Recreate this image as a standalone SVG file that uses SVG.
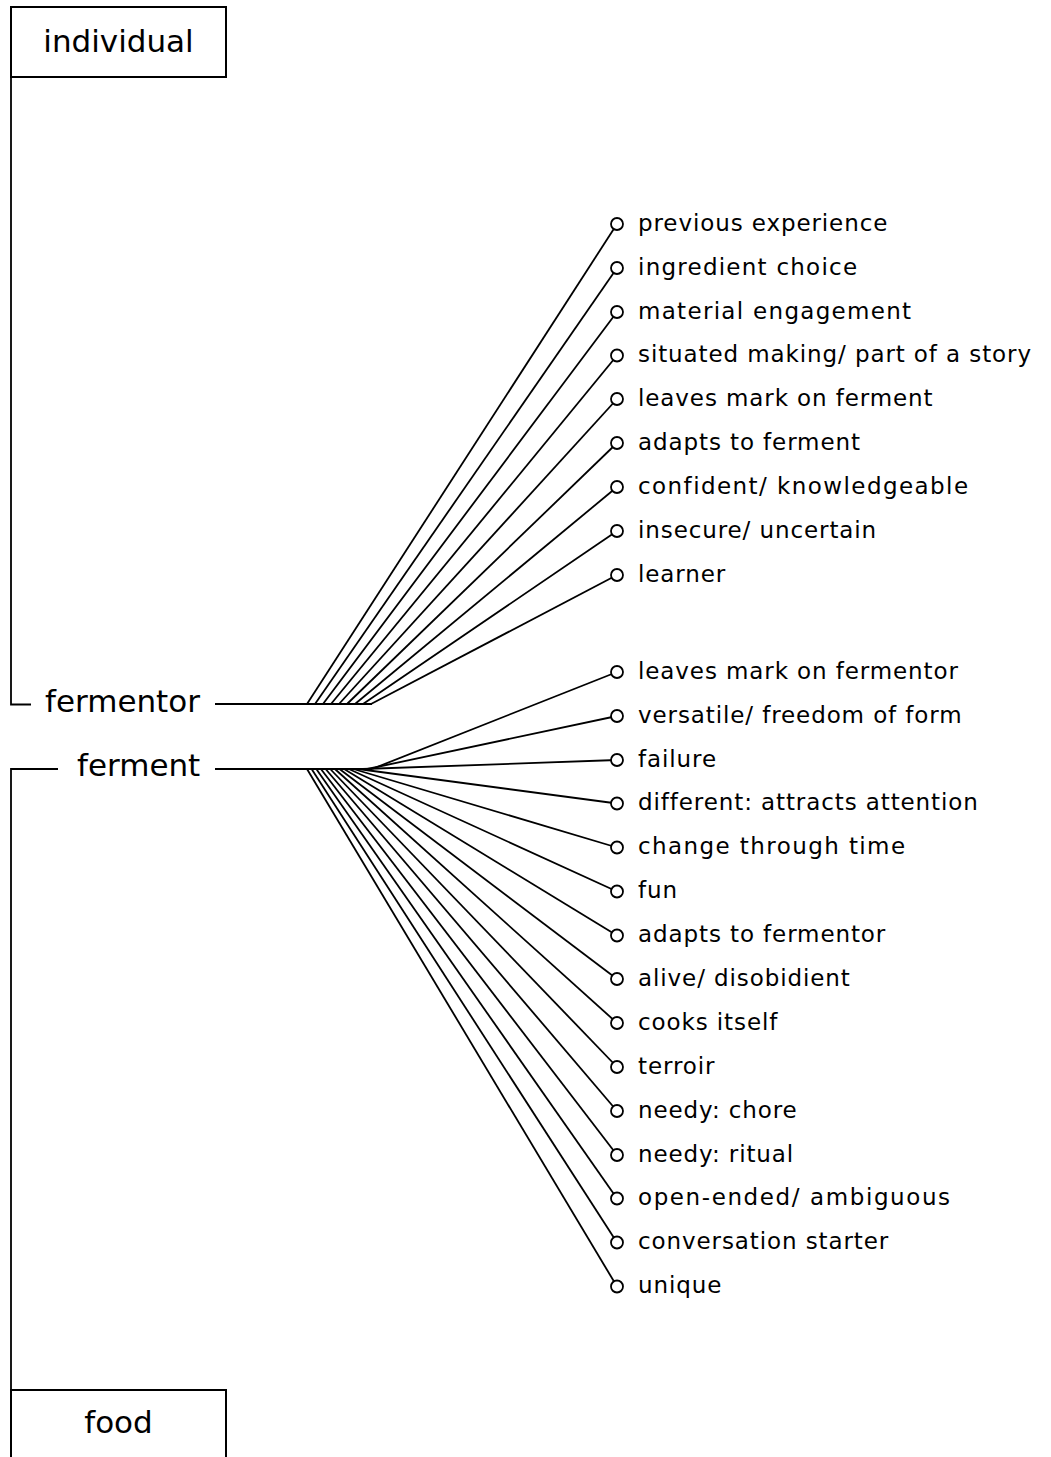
<svg xmlns="http://www.w3.org/2000/svg" width="1051" height="1457" viewBox="0 0 1051 1457">
<style>
.bg{fill:#fff}
.box{fill:#fff;stroke:#000;stroke-width:2}
.ln{fill:none;stroke:#000;stroke-width:1.8}
.dot{fill:#fff;stroke:#000;stroke-width:1.8}
.big{font-family:"DejaVu Sans",sans-serif;font-size:31px;fill:#000}
.lbl{font-family:"DejaVu Sans",sans-serif;font-size:23px;letter-spacing:0.9px;fill:#000}
</style>
<rect class="bg" x="0" y="0" width="1051" height="1457"/>
<g id="connectors">
<path class="ln" d="M11 77 V704.5 H31"/>
<path class="ln" d="M58 769 H11 V1390"/>
<path class="ln" d="M215 704 H372"/>
<path class="ln" d="M215 769 H372"/>
<line class="ln" x1="307" y1="704" x2="617" y2="224"/>
<line class="ln" x1="315" y1="704" x2="617" y2="268"/>
<line class="ln" x1="323" y1="704" x2="617" y2="312"/>
<line class="ln" x1="331" y1="704" x2="617" y2="355.5"/>
<line class="ln" x1="339" y1="704" x2="617" y2="399"/>
<line class="ln" x1="347" y1="704" x2="617" y2="443"/>
<line class="ln" x1="355" y1="704" x2="617" y2="487"/>
<line class="ln" x1="363" y1="704" x2="617" y2="531"/>
<line class="ln" x1="371" y1="704" x2="617" y2="575"/>
<line class="ln" x1="372" y1="769" x2="617" y2="672"/>
<line class="ln" x1="367.4" y1="769" x2="617" y2="716"/>
<line class="ln" x1="362.7" y1="769" x2="617" y2="760"/>
<line class="ln" x1="358.1" y1="769" x2="617" y2="803.5"/>
<line class="ln" x1="353.4" y1="769" x2="617" y2="847.5"/>
<line class="ln" x1="348.8" y1="769" x2="617" y2="891.5"/>
<line class="ln" x1="344.1" y1="769" x2="617" y2="935.5"/>
<line class="ln" x1="339.5" y1="769" x2="617" y2="979"/>
<line class="ln" x1="334.9" y1="769" x2="617" y2="1023"/>
<line class="ln" x1="330.2" y1="769" x2="617" y2="1067"/>
<line class="ln" x1="325.6" y1="769" x2="617" y2="1111"/>
<line class="ln" x1="320.9" y1="769" x2="617" y2="1155"/>
<line class="ln" x1="316.3" y1="769" x2="617" y2="1198.5"/>
<line class="ln" x1="311.6" y1="769" x2="617" y2="1242.5"/>
<line class="ln" x1="307" y1="769" x2="617" y2="1286.5"/>
</g>
<g id="individual"><rect class="box" x="11" y="7" width="215" height="70"/><text class="big" x="118.5" y="52" text-anchor="middle">individual</text></g>
<g id="food"><rect class="box" x="11" y="1390" width="215" height="80"/><text class="big" x="118.5" y="1433" text-anchor="middle">food</text></g>
<g id="fermentor"><text class="big" x="45" y="712">fermentor</text></g>
<g id="ferment"><text class="big" x="77" y="776">ferment</text></g>
<g id="n1"><circle class="dot" cx="617" cy="224" r="6"/><text class="lbl" x="638" y="230.5">previous experience</text></g>
<g id="n2"><circle class="dot" cx="617" cy="268" r="6"/><text class="lbl" x="638" y="274.5" textLength="220">ingredient choice</text></g>
<g id="n3"><circle class="dot" cx="617" cy="312" r="6"/><text class="lbl" x="638" y="318.5" textLength="274">material engagement</text></g>
<g id="n4"><circle class="dot" cx="617" cy="355.5" r="6"/><text class="lbl" x="638" y="362">situated making/ part of a story</text></g>
<g id="n5"><circle class="dot" cx="617" cy="399" r="6"/><text class="lbl" x="638" y="405.5">leaves mark on ferment</text></g>
<g id="n6"><circle class="dot" cx="617" cy="443" r="6"/><text class="lbl" x="638" y="449.5">adapts to ferment</text></g>
<g id="n7"><circle class="dot" cx="617" cy="487" r="6"/><text class="lbl" x="638" y="493.5" textLength="331">confident/ knowledgeable</text></g>
<g id="n8"><circle class="dot" cx="617" cy="531" r="6"/><text class="lbl" x="638" y="537.5">insecure/ uncertain</text></g>
<g id="n9"><circle class="dot" cx="617" cy="575" r="6"/><text class="lbl" x="638" y="581.5">learner</text></g>
<g id="m1"><circle class="dot" cx="617" cy="672" r="6"/><text class="lbl" x="638" y="678.5">leaves mark on fermentor</text></g>
<g id="m2"><circle class="dot" cx="617" cy="716" r="6"/><text class="lbl" x="638" y="722.5">versatile/ freedom of form</text></g>
<g id="m3"><circle class="dot" cx="617" cy="760" r="6"/><text class="lbl" x="638" y="766.5">failure</text></g>
<g id="m4"><circle class="dot" cx="617" cy="803.5" r="6"/><text class="lbl" x="638" y="810">different: attracts attention</text></g>
<g id="m5"><circle class="dot" cx="617" cy="847.5" r="6"/><text class="lbl" x="638" y="854" textLength="268">change through time</text></g>
<g id="m6"><circle class="dot" cx="617" cy="891.5" r="6"/><text class="lbl" x="638" y="898">fun</text></g>
<g id="m7"><circle class="dot" cx="617" cy="935.5" r="6"/><text class="lbl" x="638" y="942">adapts to fermentor</text></g>
<g id="m8"><circle class="dot" cx="617" cy="979" r="6"/><text class="lbl" x="638" y="985.5">alive/ disobidient</text></g>
<g id="m9"><circle class="dot" cx="617" cy="1023" r="6"/><text class="lbl" x="638" y="1029.5">cooks itself</text></g>
<g id="m10"><circle class="dot" cx="617" cy="1067" r="6"/><text class="lbl" x="638" y="1073.5">terroir</text></g>
<g id="m11"><circle class="dot" cx="617" cy="1111" r="6"/><text class="lbl" x="638" y="1117.5">needy: chore</text></g>
<g id="m12"><circle class="dot" cx="617" cy="1155" r="6"/><text class="lbl" x="638" y="1161.5">needy: ritual</text></g>
<g id="m13"><circle class="dot" cx="617" cy="1198.5" r="6"/><text class="lbl" x="638" y="1205" textLength="313">open-ended/ ambiguous</text></g>
<g id="m14"><circle class="dot" cx="617" cy="1242.5" r="6"/><text class="lbl" x="638" y="1249">conversation starter</text></g>
<g id="m15"><circle class="dot" cx="617" cy="1286.5" r="6"/><text class="lbl" x="638" y="1293">unique</text></g>
</svg>
